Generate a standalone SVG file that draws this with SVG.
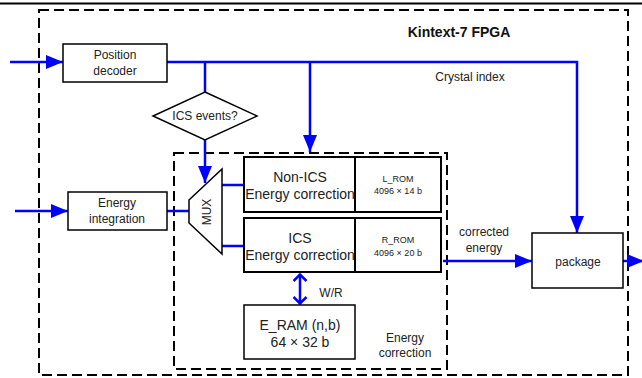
<svg xmlns="http://www.w3.org/2000/svg" width="642" height="378" viewBox="0 0 642 378">
<style>
.box{fill:#fff;stroke:#000;stroke-width:1.5}
.tbox{fill:#fff;stroke:#000;stroke-width:2}
.dash{fill:none;stroke:#000;stroke-width:2;stroke-dasharray:10,5}
.w{fill:none;stroke:#0000ff;stroke-width:2.5}
.t{font-family:"Liberation Sans",Arial,sans-serif;font-size:12px;fill:#222;text-anchor:middle}
.tl{font-family:"Liberation Sans",Arial,sans-serif;font-size:14px;fill:#222;text-anchor:middle}
.ts{font-family:"Liberation Sans",Arial,sans-serif;font-size:9px;fill:#222;text-anchor:middle}
</style>
<defs>
<marker id="ah" viewBox="0 0 17 14" refX="17" refY="7" markerWidth="17" markerHeight="14" markerUnits="userSpaceOnUse" orient="auto">
<path d="M0,0 L17,7 L0,14 Z" fill="#0000ff"/>
</marker>
<marker id="oh" viewBox="0 0 9 15" refX="8" refY="7.5" markerWidth="9" markerHeight="15" markerUnits="userSpaceOnUse" orient="auto-start-reverse">
<path d="M1,1 L7.5,7.5 L1,14" fill="none" stroke="#0000ff" stroke-width="2.5"/>
</marker>
</defs>
<line x1="0" y1="3.5" x2="642" y2="3.5" stroke="#000" stroke-width="2"/>
<g id="fpga">
<rect class="dash" x="39" y="10" width="589" height="365"/>
<text x="459" y="37" font-family="'Liberation Sans',Arial,sans-serif" font-size="14" font-weight="bold" fill="#111" text-anchor="middle">Kintext-7 FPGA</text>
</g>
<g id="energy-correction-group">
<rect class="dash" x="174" y="153" width="273" height="216"/>
<text class="t" x="405" y="342">Energy</text>
<text class="t" x="405" y="357">correction</text>
</g>
<g id="connectors">
<line class="w" x1="10" y1="62" x2="63" y2="62" marker-end="url(#ah)"/>
<polyline class="w" points="167,62 577,62 577,233" marker-end="url(#ah)"/>
<line class="w" x1="205" y1="62" x2="205" y2="92"/>
<line class="w" x1="310" y1="62" x2="310" y2="152" marker-end="url(#ah)"/>
<line class="w" x1="205" y1="140" x2="205" y2="183" marker-end="url(#ah)"/>
<line class="w" x1="15" y1="211" x2="68" y2="211" marker-end="url(#ah)"/>
<line class="w" x1="167" y1="211" x2="190" y2="211"/>
<line class="w" x1="222" y1="185" x2="244" y2="185"/>
<line class="w" x1="222" y1="246" x2="244" y2="246"/>
<line class="w" x1="443" y1="261" x2="532" y2="261" marker-end="url(#ah)"/>
<line class="w" x1="623" y1="261" x2="644" y2="261" marker-end="url(#ah)"/>
<line class="w" x1="300" y1="274" x2="300" y2="304" marker-start="url(#oh)" marker-end="url(#oh)"/>
<text class="t" x="484" y="236">corrected</text>
<text class="t" x="484" y="252">energy</text>
<text class="t" x="470" y="81">Crystal index</text>
<text class="t" x="331" y="297">W/R</text>
</g>
<g id="position-decoder">
<rect class="box" x="63" y="44" width="104" height="38"/>
<text class="t" x="115" y="59">Position</text>
<text class="t" x="115" y="75">decoder</text>
</g>
<g id="ics-events">
<polygon class="box" points="205,92 257,116 205,140 153,116"/>
<text class="t" x="205" y="120">ICS events?</text>
</g>
<g id="energy-integration">
<rect class="box" x="68" y="192" width="99" height="38"/>
<text class="t" x="117" y="207">Energy</text>
<text class="t" x="117" y="223">integration</text>
</g>
<g id="mux">
<polygon class="box" points="189,200 222,169 222,254 189,223"/>
<text class="t" transform="translate(211,212) rotate(-90)">MUX</text>
</g>
<g id="non-ics">
<rect class="tbox" x="244" y="157" width="197" height="55"/>
<line x1="355" y1="157" x2="355" y2="212" stroke="#000" stroke-width="2"/>
<text class="tl" x="300" y="182">Non-ICS</text>
<text class="tl" x="300" y="199">Energy correction</text>
<text class="ts" x="398" y="182">L_ROM</text>
<text class="ts" x="398" y="194">4096 × 14 b</text>
</g>
<g id="ics">
<rect class="tbox" x="244" y="218" width="197" height="54"/>
<line x1="355" y1="218" x2="355" y2="272" stroke="#000" stroke-width="2"/>
<text class="tl" x="300" y="243">ICS</text>
<text class="tl" x="300" y="260">Energy correction</text>
<text class="ts" x="398" y="243">R_ROM</text>
<text class="ts" x="398" y="256">4096 × 20 b</text>
</g>
<g id="e-ram">
<rect class="box" x="244" y="305" width="111" height="54"/>
<text class="tl" x="300" y="330">E_RAM (n,b)</text>
<text class="tl" x="300" y="347">64 × 32 b</text>
</g>
<g id="package">
<rect class="box" x="532" y="233" width="91" height="55"/>
<text class="t" x="578" y="266">package</text>
</g>
</svg>
